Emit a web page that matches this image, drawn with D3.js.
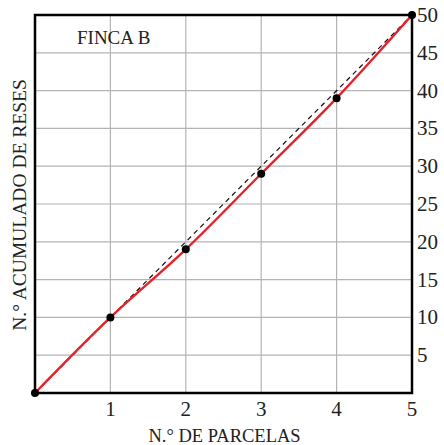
<!DOCTYPE html>
<html>
<head>
<meta charset="utf-8">
<script src="https://cdn.jsdelivr.net/npm/d3@7"></script>
<style>
  body { margin: 0; background: #fff; }
  text { font-family: "Liberation Serif", "DejaVu Serif", serif; fill: #222; }
</style>
</head>
<body>
<div id="chart"></div>
<script>
var parcelas = [0, 1, 2, 3, 4, 5];
var reses = [0, 10, 19, 29, 39, 50];
var xTicks = [1, 2, 3, 4, 5];
var yTicks = [5, 10, 15, 20, 25, 30, 35, 40, 45, 50];

var width = 444, height = 445;
var margin = { top: 15, right: 32, bottom: 52, left: 35 };
var w = width - margin.left - margin.right;
var h = height - margin.top - margin.bottom;

var svg = d3.select("#chart").append("svg")
    .attr("width", width)
    .attr("height", height)
    .append("g")
    .attr("transform", "translate(" + margin.left + "," + margin.top + ")");

var x = d3.scaleLinear().domain([0, 5]).range([0, w]);
var y = d3.scaleLinear().domain([0, 50]).range([h, 0]);

// grid
svg.selectAll(".vgrid")
    .data(xTicks)
    .enter()
    .append("line")
    .attr("x1", function (d) { return x(d); })
    .attr("x2", function (d) { return x(d); })
    .attr("y1", 0)
    .attr("y2", h)
    .attr("stroke", "#b4b4b4")
    .attr("stroke-width", 1.2);

svg.selectAll(".hgrid")
    .data(yTicks)
    .enter()
    .append("line")
    .attr("x1", 0)
    .attr("x2", w)
    .attr("y1", function (d) { return y(d); })
    .attr("y2", function (d) { return y(d); })
    .attr("stroke", "#b4b4b4")
    .attr("stroke-width", 1.2);

// reference diagonal
svg.append("line")
    .attr("x1", x(parcelas[0]))
    .attr("y1", y(reses[0]))
    .attr("x2", x(parcelas[parcelas.length - 1]))
    .attr("y2", y(reses[reses.length - 1]))
    .attr("stroke", "#111")
    .attr("stroke-width", 1.2)
    .attr("stroke-dasharray", "5,4");

// data line
var pts = parcelas.map(function (p, i) { return [p, reses[i]]; });
var line = d3.line()
    .x(function (d) { return x(d[0]); })
    .y(function (d) { return y(d[1]); })
    .curve(d3.curveMonotoneX);

svg.append("path")
    .datum(pts)
    .attr("d", line)
    .attr("fill", "none")
    .attr("stroke", "#e8202a")
    .attr("stroke-width", 2.4);

// frame
svg.append("rect")
    .attr("x", 0)
    .attr("y", 0)
    .attr("width", w)
    .attr("height", h)
    .attr("fill", "none")
    .attr("stroke", "#000")
    .attr("stroke-width", 2.5);

// dots
svg.selectAll(".dot")
    .data(pts)
    .enter()
    .append("circle")
    .attr("cx", function (d) { return x(d[0]); })
    .attr("cy", function (d) { return y(d[1]); })
    .attr("r", 4)
    .attr("fill", "#000");

// x tick labels
svg.selectAll(".xlab")
    .data(xTicks)
    .enter()
    .append("text")
    .attr("x", function (d) { return x(d); })
    .attr("y", h + 23)
    .attr("text-anchor", "middle")
    .attr("font-size", "21px")
    .text(function (d) { return d; });

// y tick labels (right side)
svg.selectAll(".ylab")
    .data(yTicks)
    .enter()
    .append("text")
    .attr("x", w + 5)
    .attr("y", function (d) { return y(d) + 7; })
    .attr("text-anchor", "start")
    .attr("font-size", "21px")
    .text(function (d) { return d; });

// axis titles
svg.append("text")
    .attr("x", w / 2 + 1)
    .attr("y", h + 49)
    .attr("text-anchor", "middle")
    .attr("font-size", "18.5px")
    .text("N.° DE PARCELAS");

svg.append("text")
    .attr("transform", "translate(-9," + (h / 2 + 1) + ") rotate(-90)")
    .attr("text-anchor", "middle")
    .attr("font-size", "19.5px")
    .text("N.° ACUMULADO DE RESES");

svg.append("text")
    .attr("x", 42)
    .attr("y", 29)
    .attr("font-size", "19px")
    .text("FINCA B");
</script>
</body>
</html>
